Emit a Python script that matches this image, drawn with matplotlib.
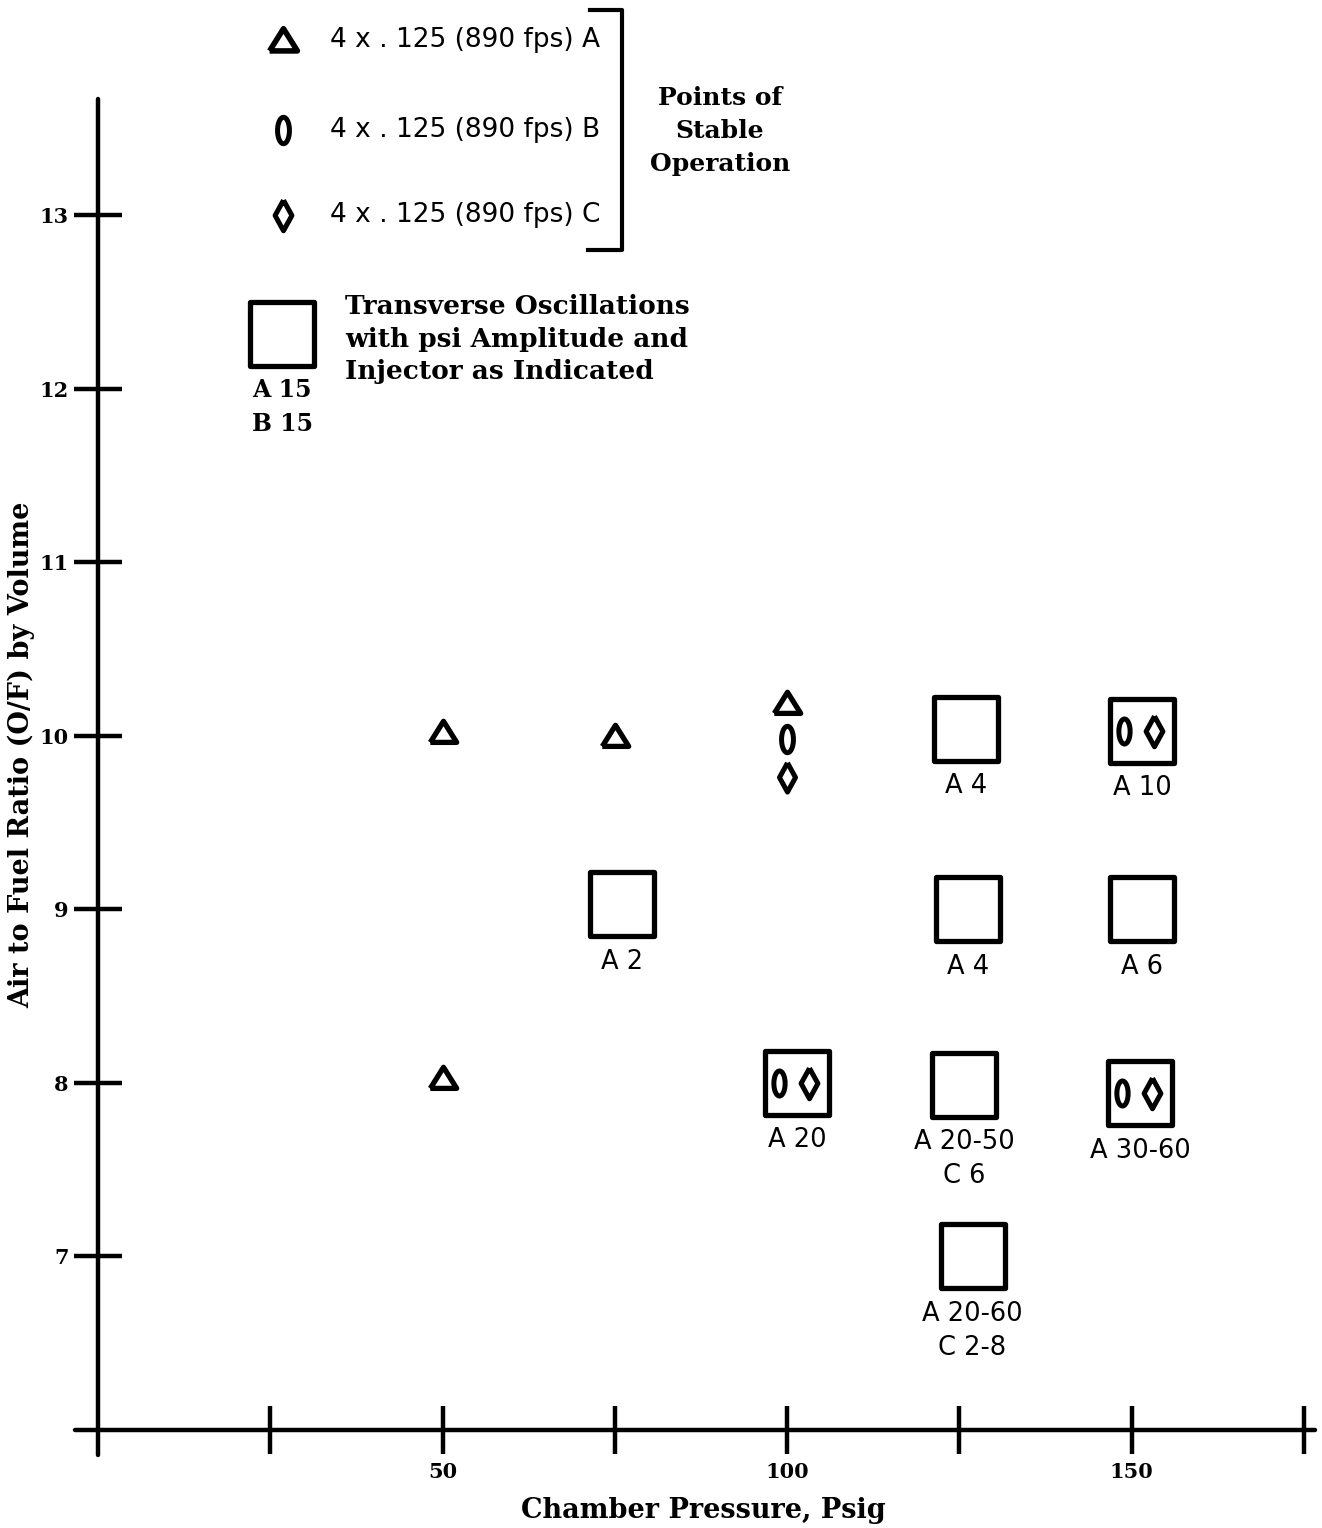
import numpy as np
import matplotlib
matplotlib.use('Agg')
import matplotlib.pyplot as plt
from matplotlib.markers import MarkerStyle
from matplotlib.transforms import ScaledTranslation

# values
tri_x = [50, 75, 100, 50]
tri_y = [10.02, 10.0, 10.19, 8.03]
ell_x = [100]
ell_y = [9.98]
dia_x = [100]
dia_y = [9.76]

sq_x = [76, 126, 151.5, 126.3, 151.5, 101.5, 125.7, 151.2, 126.9]
sq_y = [9.03, 10.04, 10.03, 9.0, 9.0, 8.0, 7.99, 7.94, 7.0]
sq_labels = ['A 2', 'A 4', 'A 10', 'A 4', 'A 6', 'A 20',
             'A 20-50\nC 6', 'A 30-60', 'A 20-60\nC 2-8']
# squares that also contain stable B and C points
inner_x = [151.5, 101.5, 151.2]
inner_y = [10.03, 8.0, 7.94]

x_ticks = [25, 50, 75, 100, 125, 150, 175]
x_ticklabels = ['', '50', '', '100', '', '150', '']
y_ticks = [7, 8, 9, 10, 11, 12, 13]

W, H = 1322, 1528
sans = 'DejaVu Sans'
serif = 'DejaVu Serif'

tri_m = MarkerStyle(np.array([[-1, -0.75], [1, -0.75], [0, 0.85], [-1, -0.75]]), joinstyle='round')
t = np.linspace(0, 2 * np.pi, 60)
ell_m = MarkerStyle(np.column_stack([0.45 * np.cos(t), np.sin(t)]), joinstyle='round')
dia_m = MarkerStyle(np.array([[0, 1], [0.55, 0], [0, -1], [-0.55, 0], [0, 1]]), joinstyle='round')
sq_m = MarkerStyle('s', joinstyle='round')

fig = plt.figure(figsize=(W / 100, H / 100), dpi=100)
ax = fig.add_axes([0, 0, 1, 1])
ax.set_xlim(-14.2, 177.6)
ax.set_ylim(5.435, 14.24)

for s in ['top', 'right']:
    ax.spines[s].set_visible(False)
ax.spines['left'].set_position(('data', 0))
ax.spines['bottom'].set_position(('data', 6))
ax.spines['left'].set_bounds(5.856, 13.67)
ax.spines['bottom'].set_bounds(-3.3, 176.6)
for s in ['left', 'bottom']:
    ax.spines[s].set_linewidth(3.2)
    ax.spines[s].set_capstyle('round')

ax.set_xticks(x_ticks)
ax.set_xticklabels(x_ticklabels)
ax.set_yticks(y_ticks)
ax.set_yticklabels([str(v) for v in y_ticks])
ax.tick_params(axis='both', direction='inout', width=3.2, length=34)
ax.tick_params(axis='x', pad=6, labelsize=15)
ax.tick_params(axis='y', pad=4, labelsize=15)
for lab in ax.get_xticklabels() + ax.get_yticklabels():
    lab.set_fontfamily(serif)
    lab.set_fontweight('bold')

common = dict(linestyle='none', color='black', mfc='white', mec='black', clip_on=False)
ax.plot(tri_x, tri_y, marker=tri_m, ms=19, mew=3.8, **common)
ax.plot(ell_x, ell_y, marker=ell_m, ms=19, mew=3.6, **common)
ax.plot(dia_x, dia_y, marker=dia_m, ms=21, mew=3.6, **common)
ax.plot(sq_x, sq_y, marker=sq_m, ms=46, mew=3.8, **common)

# B and C symbols drawn inside some squares
left = ax.transData + ScaledTranslation(-18 / 100, 0, fig.dpi_scale_trans)
right = ax.transData + ScaledTranslation(12 / 100, 0, fig.dpi_scale_trans)
ax.plot(inner_x, inner_y, marker=ell_m, ms=18, mew=3.6, transform=left, **common)
ax.plot(inner_x, inner_y, marker=dia_m, ms=22, mew=3.6, transform=right, **common)

for x, y, lab in zip(sq_x, sq_y, sq_labels):
    ax.annotate(lab, (x, y), xytext=(0, -32), textcoords='offset points',
                ha='center', va='top', fontsize=18.5, family=sans,
                linespacing=1.42)

# legend block drawn in pixel positions of the figure
def fx(px):
    return px / W

def fy(py):
    return 1 - py / H

leg = dict(transform=ax.transAxes, linestyle='none', mfc='white', mec='black', clip_on=False)
ax.plot([fx(283)], [fy(40)], marker=tri_m, ms=20, mew=4, **leg)
ax.plot([fx(283)], [fy(130)], marker=ell_m, ms=19, mew=3.6, **leg)
ax.plot([fx(283)], [fy(215)], marker=dia_m, ms=22, mew=3.6, **leg)
for py, letter in zip([40, 130, 215], ['A', 'B', 'C']):
    ax.text(fx(330), fy(py), '4 x . 125 (890 fps) ' + letter, transform=ax.transAxes,
            ha='left', va='center', fontsize=19, family=sans)
ax.plot([fx(590), fx(622), fx(622), fx(588)], [fy(10), fy(10), fy(250), fy(250)],
        color='black', lw=3, transform=ax.transAxes, clip_on=False)
ax.text(fx(720), fy(131), 'Points of\nStable\nOperation', transform=ax.transAxes,
        ha='center', va='center', fontsize=18, family=serif, fontweight='bold',
        linespacing=1.48)

ax.plot([fx(282)], [fy(334)], marker=sq_m, ms=46, mew=3.8, **leg)
ax.text(fx(282), fy(407), 'A 15\nB 15', transform=ax.transAxes, ha='center', va='center',
        fontsize=17, family=serif, fontweight='bold', linespacing=1.55)
ax.text(fx(345), fy(339), 'Transverse Oscillations\nwith psi Amplitude and\nInjector as Indicated',
        transform=ax.transAxes, ha='left', va='center', fontsize=19, family=serif,
        fontweight='bold', linespacing=1.38)

ax.text(fx(703), fy(1510), 'Chamber Pressure, Psig', transform=ax.transAxes,
        ha='center', va='center', fontsize=19.5, family=serif, fontweight='bold')
ax.text(fx(22), fy(755), 'Air to Fuel Ratio (O/F) by Volume', transform=ax.transAxes,
        ha='center', va='center', rotation=90, fontsize=19.5, family=serif,
        fontweight='bold')

fig.savefig('out.png', dpi=100)
